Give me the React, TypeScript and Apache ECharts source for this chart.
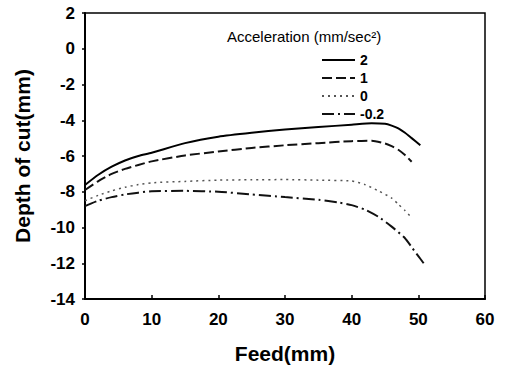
import React, { useEffect, useRef } from "react";
import * as echarts from "echarts";

const feedA = [0, 2, 4, 6, 8, 10, 15, 20, 25, 30, 35, 40, 43, 45, 46, 47, 48, 49, 50.3];
const depthA = [-7.62, -7.05, -6.6, -6.25, -6.0, -5.82, -5.28, -4.92, -4.7, -4.52, -4.38, -4.25, -4.17, -4.2, -4.3, -4.45, -4.7, -5.0, -5.4];

const feedB = [0, 2, 4, 6, 8, 10, 15, 20, 25, 30, 35, 40, 43, 45, 46, 47, 48, 49];
const depthB = [-7.9, -7.4, -7.0, -6.72, -6.5, -6.3, -5.97, -5.75, -5.55, -5.4, -5.28, -5.17, -5.15, -5.3, -5.45, -5.65, -5.95, -6.32];

const feedC = [0, 2, 4, 6, 8, 10, 15, 20, 25, 30, 35, 40, 42, 44, 46, 47, 48, 49];
const depthC = [-8.5, -8.2, -7.95, -7.75, -7.6, -7.5, -7.42, -7.35, -7.33, -7.32, -7.35, -7.4, -7.6, -7.95, -8.35, -8.7, -9.05, -9.45];

const feedD = [0, 2, 4, 6, 8, 10, 15, 20, 25, 30, 35, 38, 40, 42, 44, 46, 48, 49, 50, 50.8];
const depthD = [-8.8, -8.5, -8.3, -8.15, -8.05, -7.97, -7.95, -8.0, -8.15, -8.3, -8.45, -8.6, -8.75, -9.0, -9.4, -9.95, -10.6, -11.1, -11.6, -12.0];

const seriesNames = ["2", "1", "0", "-0.2"];
const legendTitle = "Acceleration (mm/sec²)";
const xName = "Feed(mm)";
const yName = "Depth of cut(mm)";

const pair = (xs: number[], ys: number[]) => xs.map((x, i) => [x, ys[i]]);

export default function App() {
  const ref = useRef<HTMLDivElement>(null);
  useEffect(() => {
    if (!ref.current) return;
    const chart = echarts.init(ref.current, null, { renderer: "svg" });
    const font = "'Liberation Sans', Arial, sans-serif";
    const lineStyles: any[] = [
      { color: "#000", width: 2, type: "solid" },
      { color: "#111", width: 2, type: [10, 4] },
      { color: "#555", width: 1.5, type: [2, 4] },
      { color: "#111", width: 2, type: [12, 4, 2, 4] },
    ];
    const datas = [pair(feedA, depthA), pair(feedB, depthB), pair(feedC, depthC), pair(feedD, depthD)];
    chart.setOption({
      animation: false,
      backgroundColor: "#fff",
      title: {
        text: legendTitle,
        left: 222,
        top: 24,
        textStyle: { fontFamily: font, fontSize: 15, fontWeight: "normal", color: "#000" },
      },
      legend: {
        data: seriesNames,
        orient: "vertical",
        left: 316,
        top: 48,
        itemWidth: 33,
        itemHeight: 14,
        itemGap: 4,
        itemStyle: { color: "transparent", borderWidth: 0, opacity: 0 },
        textStyle: { fontFamily: font, fontSize: 14, fontWeight: "bold", color: "#000", lineHeight: 14 },
      },
      grid: {
        left: 85,
        right: 23,
        top: 13,
        bottom: 77,
        show: true,
        borderColor: "#000",
        borderWidth: 1.5,
        backgroundColor: "transparent",
      },
      xAxis: {
        type: "value",
        min: 0,
        max: 60,
        interval: 10,
        name: xName,
        nameLocation: "middle",
        nameGap: 44,
        nameTextStyle: { fontFamily: font, fontSize: 21, fontWeight: "bold", color: "#000" },
        axisLine: { show: true, onZero: false, lineStyle: { color: "#000", width: 2 } },
        axisTick: { show: true, inside: true, length: 4, lineStyle: { color: "#000", width: 1.5 } },
        axisLabel: { fontFamily: font, fontSize: 17, fontWeight: "bold", color: "#000", margin: 12 },
        splitLine: { show: false },
      },
      yAxis: {
        type: "value",
        min: -14,
        max: 2,
        interval: 2,
        name: yName,
        nameLocation: "middle",
        nameGap: 52,
        nameTextStyle: { fontFamily: font, fontSize: 21, fontWeight: "bold", color: "#000" },
        axisLine: { show: true, onZero: false, lineStyle: { color: "#000", width: 2 } },
        axisTick: { show: true, inside: false, length: 3, lineStyle: { color: "#000", width: 1.5 } },
        axisLabel: { fontFamily: font, fontSize: 17, fontWeight: "bold", color: "#000", margin: 10 },
        splitLine: { show: false },
      },
      series: seriesNames.map((name, i) => ({
        name,
        type: "line",
        data: datas[i],
        showSymbol: false,
        symbol: "none",
        smooth: 0.2,
        lineStyle: lineStyles[i],
        itemStyle: { color: "transparent" },
      })),
    });
    return () => chart.dispose();
  }, []);
  return (
    <div
      ref={ref}
      style={{ position: "absolute", left: 0, top: 0, width: 508, height: 376 }}
    />
  );
}
